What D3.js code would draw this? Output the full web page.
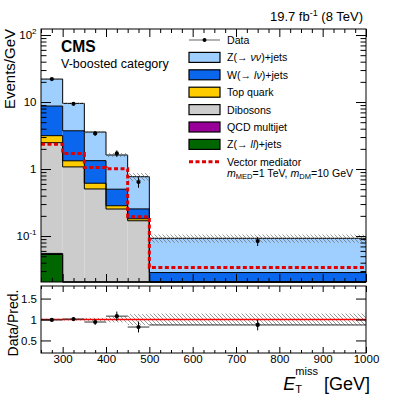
<!DOCTYPE html>
<html>
<head>
<meta charset="utf-8">
<script src="https://cdn.jsdelivr.net/npm/d3@7"></script>
<style>
body { margin: 0; background: #fff; }
svg { font-family: "Liberation Sans", Arial, Helvetica, sans-serif; }
</style>
</head>
<body>
<div id="chart"></div>
<script>
// MET bin edges (GeV)
const binEdges = [250, 300, 350, 400, 450, 500, 1000];

// stacked backgrounds, events/GeV, bottom to top
const processes = ["zll", "qcd", "diboson", "top", "wjets", "znn"];
const zllVals     = [0.053, 0.005, 0.003, 0.002, 0.001, 0.001];
const qcdVals     = [0.002, 0.001, 0.001, 0.001, 0.001, 0.0005];
const dibosonVals = [2.42, 1.07, 0.50, 0.25, 0.167, 0.012];
const topVals     = [0.67, 0.25, 0.11, 0.03, 0.012, 0.004];
const wjetsVals   = [5.56, 2.40, 0.72, 0.217, 0.073, 0.011];
const znnVals     = [13.3, 5.82, 2.23, 1.12, 0.514, 0.064];

// relative uncertainty on the prediction
const predUnc = [0.02, 0.025, 0.04, 0.07, 0.13, 0.14];

// vector mediator signal
const signalVals = [2.34, 1.71, 1.05, 1.01, 0.194, 0.034];

// data
const dataVals = [22, 9.4, 3.4, 1.71, 0.64, 0.084];
const dataErr  = [0.7, 0.45, 0.27, 0.19, 0.115, 0.013];

// data / prediction
const ratioVals = [0.99, 1.01, 0.94, 1.08, 0.82, 0.87];
const ratioErr  = [0.03, 0.04, 0.07, 0.11, 0.13, 0.13];

// tick labels
const xTickLabels = [300, 400, 500, 600, 700, 800, 900, 1000];
const ratioTickLabels = [0.5, 1, 1.5];

const colors = {
    znn: "#9fcfff",
    wjets: "#0b66ee",
    top: "#ffcc00",
    diboson: "#cccccc",
    qcd: "#990099",
    zll: "#006600"
};

//frame positions
const X0 = 41, X1 = 366;
const Y0 = 29, Y1 = 282;
const R0 = 286, R1 = 353;

const x = d3.scaleLinear().domain([250, 1000]).range([X0, X1]);
const y = d3.scaleLog().domain([0.0206, 123]).range([Y1, Y0]).clamp(true);
const yr = d3.scaleLinear().domain([0.2, 1.8]).range([R1, R0]).clamp(true);

const procValues = { zll: zllVals, qcd: qcdVals, diboson: dibosonVals, top: topVals, wjets: wjetsVals, znn: znnVals };

const bins = d3.range(binEdges.length - 1).map(i => {
    const b = { lo: binEdges[i], hi: binEdges[i + 1], i: i };
    processes.forEach(p => { b[p] = procValues[p][i]; });
    b.total = d3.sum(processes, p => procValues[p][i]);
    return b;
});

const stacked = d3.stack().keys(processes)(bins);

const svg = d3.select("#chart").append("svg")
    .attr("width", 407)
    .attr("height", 395);

const defs = svg.append("defs");
defs.append("pattern")
    .attr("id", "hatch")
    .attr("patternUnits", "userSpaceOnUse")
    .attr("width", 4)
    .attr("height", 4)
    .append("path")
    .attr("d", "M-1,-1L5,5M-1,3L1,5M3,-1L5,1")
    .attr("stroke", "#6a6a6a")
    .attr("stroke-width", 0.7);

//stacked fills
const main = svg.append("g");
main.selectAll(".layer")
    .data(stacked)
    .enter().append("g")
    .attr("class", "layer")
    .attr("fill", d => colors[d.key])
    .selectAll("rect")
    .data(d => d)
    .enter().append("rect")
    .attr("x", d => x(d.data.lo))
    .attr("width", d => x(d.data.hi) - x(d.data.lo))
    .attr("y", d => y(d[1]))
    .attr("height", d => Math.max(0, y(d[0]) - y(d[1])));

// step outline of every layer
const stepLine = d3.line().curve(d3.curveStepAfter);
function stepPoints(vals) {
    const pts = bins.map((b, i) => [x(b.lo), y(vals[i])]);
    pts.push([x(1000), y(vals[vals.length - 1])]);
    return pts;
}
stacked.forEach(layer => {
    main.append("path")
        .attr("d", stepLine(stepPoints(layer.map(d => d[1]))))
        .attr("fill", "none")
        .attr("stroke", "#000")
        .attr("stroke-width", 1);
});

// uncertainty band on the total
main.selectAll(".unc")
    .data(bins)
    .enter().append("rect")
    .attr("x", d => x(d.lo))
    .attr("width", d => x(d.hi) - x(d.lo))
    .attr("y", d => y(d.total * (1 + predUnc[d.i])))
    .attr("height", d => y(d.total * (1 - predUnc[d.i])) - y(d.total * (1 + predUnc[d.i])))
    .attr("fill", "url(#hatch)");

// signal
main.append("path")
    .attr("d", stepLine(stepPoints(signalVals)))
    .attr("fill", "none")
    .attr("stroke", "#e00000")
    .attr("stroke-width", 3)
    .attr("stroke-dasharray", "4,2.5");

// data points
const dataG = main.selectAll(".data")
    .data(bins)
    .enter().append("g");
dataG.append("line")
    .attr("x1", d => x((d.lo + d.hi) / 2))
    .attr("x2", d => x((d.lo + d.hi) / 2))
    .attr("y1", d => y(dataVals[d.i] + dataErr[d.i]))
    .attr("y2", d => y(dataVals[d.i] - dataErr[d.i]))
    .attr("stroke", "#000");
dataG.append("circle")
    .attr("cx", d => x((d.lo + d.hi) / 2))
    .attr("cy", d => y(dataVals[d.i]))
    .attr("r", 2.1)
    .attr("fill", "#000");

// ratio panel
const ratio = svg.append("g");
ratio.selectAll(".band")
    .data(bins)
    .enter().append("rect")
    .attr("x", d => x(d.lo))
    .attr("width", d => x(d.hi) - x(d.lo))
    .attr("y", d => yr(1 + predUnc[d.i]))
    .attr("height", d => yr(1 - predUnc[d.i]) - yr(1 + predUnc[d.i]))
    .attr("fill", "url(#hatch)");
ratio.append("line")
    .attr("x1", X0).attr("x2", X1)
    .attr("y1", yr(1)).attr("y2", yr(1))
    .attr("stroke", "#ff0000")
    .attr("stroke-width", 1.6);
const ratioG = ratio.selectAll(".rpt")
    .data(bins)
    .enter().append("g");
ratioG.append("line")
    .attr("x1", d => x(d.lo))
    .attr("x2", d => x(d.hi))
    .attr("y1", d => yr(ratioVals[d.i]))
    .attr("y2", d => yr(ratioVals[d.i]))
    .attr("stroke", "#333");
ratioG.append("line")
    .attr("x1", d => x((d.lo + d.hi) / 2))
    .attr("x2", d => x((d.lo + d.hi) / 2))
    .attr("y1", d => yr(ratioVals[d.i] + ratioErr[d.i]))
    .attr("y2", d => yr(ratioVals[d.i] - ratioErr[d.i]))
    .attr("stroke", "#000");
ratioG.append("circle")
    .attr("cx", d => x((d.lo + d.hi) / 2))
    .attr("cy", d => yr(ratioVals[d.i]))
    .attr("r", 2.1)
    .attr("fill", "#000");

// frames
svg.append("rect").attr("x", X0).attr("y", Y0).attr("width", X1 - X0).attr("height", Y1 - Y0)
    .attr("fill", "none").attr("stroke", "#000");
svg.append("rect").attr("x", X0).attr("y", R0).attr("width", X1 - X0).attr("height", R1 - R0)
    .attr("fill", "none").attr("stroke", "#000");

//helper to add tick-only axes
function ticks(axis, tx, ty) {
    const g = svg.append("g").attr("transform", `translate(${tx},${ty})`).call(axis);
    g.select(".domain").remove();
    g.selectAll("text").remove();
    g.selectAll("line").attr("stroke", "#000");
    return g;
}

const xMajor = d3.range(300, 1001, 100);
const xMinor = d3.range(250, 1001, 25).filter(v => v % 100 !== 0);
ticks(d3.axisBottom(x).tickValues(xMajor).tickSize(-8), 0, Y1);
ticks(d3.axisBottom(x).tickValues(xMinor).tickSize(-4), 0, Y1);
ticks(d3.axisTop(x).tickValues(xMajor).tickSize(-8), 0, Y0);
ticks(d3.axisTop(x).tickValues(xMinor).tickSize(-4), 0, Y0);
ticks(d3.axisBottom(x).tickValues(xMajor).tickSize(-6), 0, R1);
ticks(d3.axisBottom(x).tickValues(xMinor).tickSize(-3), 0, R1);
ticks(d3.axisTop(x).tickValues(xMajor).tickSize(-6), 0, R0);
ticks(d3.axisTop(x).tickValues(xMinor).tickSize(-3), 0, R0);

const yMajor = [0.1, 1, 10, 100];
const yMinor = [];
[0.01, 0.1, 1, 10].forEach(dec => {
    for (let m = 2; m <= 9; m++) {
        const v = dec * m;
        if (v > 0.0206 && v < 123) yMinor.push(v);
    }
});
ticks(d3.axisLeft(y).tickValues(yMajor).tickSize(-10), X0, 0);
ticks(d3.axisLeft(y).tickValues(yMinor).tickSize(-5.5), X0, 0);
ticks(d3.axisRight(y).tickValues(yMajor).tickSize(-10), X1, 0);
ticks(d3.axisRight(y).tickValues(yMinor).tickSize(-5.5), X1, 0);
ticks(d3.axisLeft(yr).tickValues(ratioTickLabels).tickSize(-10), X0, 0);
ticks(d3.axisRight(yr).tickValues(ratioTickLabels).tickSize(-10), X1, 0);

// x tick labels
const xl = svg.append("g").attr("transform", `translate(0,${R1})`)
    .call(d3.axisBottom(x).tickValues(xTickLabels).tickSize(0).tickPadding(2).tickFormat(d3.format("d")));
xl.select(".domain").remove();
xl.selectAll("text").attr("font-size", "11.5px").attr("fill", "#000")
    .attr("font-family", "Liberation Sans, Arial, sans-serif");

// ratio y labels
const rl = svg.append("g").attr("transform", `translate(${X0},0)`)
    .call(d3.axisLeft(yr).tickValues(ratioTickLabels).tickSize(0).tickPadding(4).tickFormat(d => d));
rl.select(".domain").remove();
rl.selectAll("text").attr("font-size", "11.5px").attr("fill", "#000")
    .attr("font-family", "Liberation Sans, Arial, sans-serif");

// main y labels with exponents
const yLabels = [[100, "10", "2"], [10, "10", ""], [1, "1", ""], [0.1, "10", "-1"]];
yLabels.forEach(([v, base, exp]) => {
    const t = svg.append("text")
        .attr("x", 36.5)
        .attr("y", y(v) + 4.2)
        .attr("text-anchor", "end")
        .attr("font-size", "11.5px");
    t.append("tspan").text(base);
    if (exp) t.append("tspan").attr("dy", -5).attr("font-size", "8px").text(exp);
});

// axis titles
svg.append("text")
    .attr("transform", `translate(15,${Y0}) rotate(-90)`)
    .attr("text-anchor", "end")
    .attr("font-size", "15px")
    .text("Events/GeV");
svg.append("text")
    .attr("transform", `translate(18,323) rotate(-90)`)
    .attr("text-anchor", "middle")
    .attr("font-size", "14px")
    .text("Data/Pred.");

const gev = svg.append("text")
    .attr("x", 370).attr("y", 390)
    .attr("text-anchor", "end")
    .attr("font-size", "18px")
    .text("[GeV]");
const gevStart = 370 - gev.node().getComputedTextLength();
const miss = svg.append("text")
    .attr("x", gevStart - 6).attr("y", 375)
    .attr("text-anchor", "end")
    .attr("font-size", "11px")
    .text("miss");
const missStart = gevStart - 6 - miss.node().getComputedTextLength();
svg.append("text")
    .attr("x", missStart).attr("y", 393)
    .attr("font-size", "11px")
    .text("T");
svg.append("text")
    .attr("x", missStart).attr("y", 390)
    .attr("text-anchor", "end")
    .attr("font-size", "18px")
    .attr("font-style", "italic")
    .text("E");

// header texts
const lumi = svg.append("text")
    .attr("x", 363).attr("y", 21)
    .attr("text-anchor", "end")
    .attr("font-size", "13px");
lumi.append("tspan").text("19.7 fb");
lumi.append("tspan").attr("dy", -5).attr("font-size", "9px").text("-1");
lumi.append("tspan").attr("dy", 5).text(" (8 TeV)");

svg.append("text")
    .attr("x", 61).attr("y", 51.5)
    .attr("font-size", "15.6px")
    .attr("font-weight", "bold")
    .text("CMS");
svg.append("text")
    .attr("x", 61).attr("y", 67.5)
    .attr("font-size", "12.5px")
    .text("V-boosted category");

// legend
const legendRows = [
    { kind: "data", parts: [["Data"]] },
    { kind: "box", key: "znn", parts: [["Z(\u2192 "], ["\u03bd\u03bd", "italic"], [")+jets"]] },
    { kind: "box", key: "wjets", parts: [["W(\u2192 "], ["l\u03bd", "italic"], [")+jets"]] },
    { kind: "box", key: "top", parts: [["Top quark"]] },
    { kind: "box", key: "diboson", parts: [["Dibosons"]] },
    { kind: "box", key: "qcd", parts: [["QCD multijet"]] },
    { kind: "box", key: "zll", parts: [["Z(\u2192 "], ["ll", "italic"], [")+jets"]] },
    { kind: "sig", parts: [["Vector mediator"]] }
];
const legX = 189, legW = 31, legY = 40, legStep = 17.4;
const legend = svg.append("g");
legendRows.forEach((row, i) => {
    const cy = legY + i * legStep;
    if (row.kind === "box") {
        legend.append("rect")
            .attr("x", legX).attr("y", cy - 5)
            .attr("width", legW).attr("height", 10)
            .attr("fill", colors[row.key])
            .attr("stroke", "#000").attr("stroke-width", 1.2);
    } else if (row.kind === "data") {
        legend.append("line")
            .attr("x1", legX).attr("x2", legX + legW)
            .attr("y1", cy).attr("y2", cy)
            .attr("stroke", "#888").attr("stroke-width", 1.3);
        legend.append("circle")
            .attr("cx", legX + legW / 2).attr("cy", cy).attr("r", 2)
            .attr("fill", "#000");
    } else {
        legend.append("line")
            .attr("x1", legX).attr("x2", legX + legW)
            .attr("y1", cy).attr("y2", cy)
            .attr("stroke", "#e00000").attr("stroke-width", 3)
            .attr("stroke-dasharray", "4,2.5");
    }
    const t = legend.append("text")
        .attr("x", 227).attr("y", cy + 4)
        .attr("font-size", "10.6px");
    row.parts.forEach(([s, style]) => {
        t.append("tspan").attr("font-style", style || "normal").text(s);
    });
});
// second line of the signal entry
const sig2 = legend.append("text")
    .attr("x", 227).attr("y", legY + 7 * legStep + 15)
    .attr("font-size", "10.6px");
sig2.append("tspan").attr("font-style", "italic").text("m");
sig2.append("tspan").attr("dy", 2.5).attr("font-size", "7.5px").text("MED");
sig2.append("tspan").attr("dy", -2.5).text("=1 TeV, ");
sig2.append("tspan").attr("font-style", "italic").text("m");
sig2.append("tspan").attr("dy", 2.5).attr("font-size", "7.5px").text("DM");
sig2.append("tspan").attr("dy", -2.5).text("=10 GeV");
</script>
</body>
</html>
